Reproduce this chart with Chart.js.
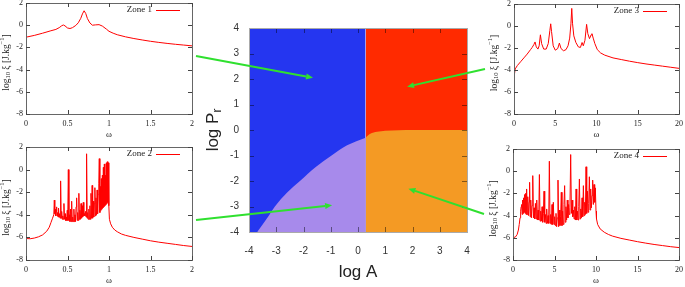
<!DOCTYPE html>
<html>
<head>
<meta charset="utf-8">
<script src="https://cdn.jsdelivr.net/npm/chart.js@4.4.1/dist/chart.umd.min.js"></script>
<style>
  body { margin: 0; background: #fff; }
  #wrap { position: relative; width: 685px; height: 287px; overflow: hidden; }
  #wrap canvas { position: absolute; }
</style>
</head>
<body>
<div id="wrap">
  <canvas id="zone1" width="200" height="142" style="left:0;top:0"></canvas>
  <canvas id="zone2" width="200" height="145" style="left:0;top:142px"></canvas>
  <canvas id="zone3" width="200" height="142" style="left:485px;top:0"></canvas>
  <canvas id="zone4" width="200" height="145" style="left:485px;top:142px"></canvas>
  <canvas id="phase" width="280" height="272" style="left:200px;top:15px"></canvas>
  <canvas id="arrows" width="685" height="287" style="left:0;top:0;pointer-events:none"></canvas>
</div>
<script>
// --- diagramme de phase (log A, log Pr) ---
const leftA = [-4, 0.28];
const leftTop = [4, 4];
const rightA = [0.28, 4];
const rightTop = [4, 4];
const purpleA = [-3.7, -3.3, -3.05, -2.6, -2.13, -1.55, -0.97, -0.4, 0.28];
const purpleTop = [-4, -3.4, -3, -2.45, -2, -1.45, -1, -0.6, -0.3];
const orangeA = [0.28, 0.45, 0.7, 1.0, 1.5, 2, 4];
const orangeTop = [-0.3, -0.15, -0.07, -0.03, -0.01, 0, 0];
const phaseTicks = [-4, -3, -2, -1, 0, 1, 2, 3, 4];

// flèches : point visé dans le diagramme
const arrowTipA = [-1.65, -0.95, 1.8, 1.85];
const arrowTipP = [2.05, -2.95, 1.7, -2.3];

// --- spectres ---
const z1Omega = [0, 0.1, 0.2, 0.3, 0.36, 0.4, 0.43, 0.45, 0.47, 0.5,
  0.53, 0.56, 0.6, 0.63, 0.66, 0.68, 0.7, 0.72, 0.74, 0.77,
  0.8, 0.84, 0.88, 0.92, 0.97, 1.0, 1.05, 1.1, 1.2, 1.3,
  1.4, 1.5, 1.6, 1.7, 1.8, 1.9, 2.0];
const z1Log = [-1.08, -0.92, -0.72, -0.5, -0.38, -0.22, -0.05, 0.02, -0.06, -0.25,
  -0.3, -0.22, -0.02, 0.22, 0.62, 1.02, 1.3, 1.05, 0.6, 0.2,
  0.0, 0.03, 0.05, -0.08, -0.36, -0.55, -0.72, -0.86, -1.05, -1.2,
  -1.33, -1.45, -1.55, -1.64, -1.72, -1.79, -1.86];

const z2Omega = [0, 0.05, 0.1, 0.15, 0.2, 0.25, 0.28, 0.3, 0.32, 0.335,
  0.341, 0.347, 0.352, 0.358, 0.363, 0.369, 0.374, 0.38, 0.386, 0.392,
  0.398, 0.404, 0.41, 0.417, 0.424, 0.43, 0.437, 0.443, 0.45, 0.457,
  0.464, 0.47, 0.477, 0.484, 0.49, 0.497, 0.503, 0.51, 0.517, 0.523,
  0.53, 0.537, 0.543, 0.55, 0.557, 0.563, 0.57, 0.577, 0.583, 0.59,
  0.597, 0.603, 0.61, 0.617, 0.623, 0.63, 0.637, 0.643, 0.65, 0.657,
  0.663, 0.67, 0.677, 0.683, 0.69, 0.697, 0.703, 0.71, 0.717, 0.723,
  0.73, 0.737, 0.743, 0.75, 0.757, 0.763, 0.77, 0.777, 0.783, 0.79,
  0.797, 0.803, 0.81, 0.817, 0.823, 0.83, 0.837, 0.843, 0.85, 0.857,
  0.863, 0.87, 0.877, 0.883, 0.89, 0.896, 0.902, 0.908, 0.914, 0.92,
  0.926, 0.932, 0.938, 0.944, 0.95, 0.956, 0.962, 0.968, 0.974, 0.98,
  0.986, 0.992, 0.998, 1.005, 1.02, 1.04, 1.07, 1.1, 1.15, 1.2,
  1.3, 1.4, 1.5, 1.6, 1.7, 1.8, 1.9, 2.0];
const z2Log = [-6.1, -6.12, -6.06, -5.95, -5.78, -5.45, -5.1, -4.7, -4.3, -4.0,
  -2.7, -3.9, -3.5, -4.1, -3.7, -3.3, -4.1, -3.8, -4.2, -3.4,
  -4.2, -3.9, -4.3, -1.0, -4.3, -3.7, -4.4, -4.1, -4.4, -3.0,
  -4.4, -3.9, -4.5, -4.2, -4.5, -3.6, -4.5, 0.0, -4.5, -4.0,
  -4.6, -3.5, -4.6, -2.8, -4.6, -4.2, -4.6, -3.5, -4.6, -4.0,
  -4.6, -3.3, -2.5, -4.5, -3.8, -4.5, -2.1, -4.4, -3.6, -4.4,
  -3.0, -4.3, -3.2, -4.2, -2.9, -4.1, -3.9, -4.1, -3.7, -4.2,
  1.4, -4.3, -3.8, -4.4, -3.5, -4.4, -3.2, -4.4, -2.1, -4.3,
  -1.4, -4.3, -2.8, -4.2, -3.0, -1.6, -4.1, -2.5, -4.0, -1.8,
  -3.9, -2.2, -1.2, 0.97, -3.8, -1.5, -3.6, -0.8, -3.5, -0.5,
  -3.4, 0.2, -3.3, 0.5, -3.2, -0.5, -3.1, 0.6, -3.0, 0.7,
  -2.9, 0.6, -3.2, -4.4, -4.8, -5.1, -5.35, -5.5, -5.7, -5.82,
  -6.0, -6.15, -6.3, -6.42, -6.52, -6.62, -6.72, -6.8];

const z3Omega = [0, 0.05, 0.15, 0.4, 0.8, 1.2, 1.6, 2.0, 2.2, 2.4,
  2.55, 2.7, 2.9, 3.05, 3.2, 3.35, 3.6, 3.9, 4.15, 4.35,
  4.45, 4.55, 4.75, 5.0, 5.3, 5.5, 5.7, 6.0, 6.3, 6.55,
  6.75, 6.9, 7.0, 7.1, 7.25, 7.5, 7.8, 8.05, 8.25, 8.4,
  8.6, 8.8, 8.95, 9.15, 9.35, 9.45, 9.6, 9.8, 10.1, 10.5,
  11, 12, 13, 14, 15, 16, 17, 18, 19, 20];
const z3Log = [-5.1, -4.4, -3.9, -3.6, -3.25, -2.9, -2.55, -2.15, -1.95, -1.7,
  -1.45, -1.9, -2.1, -1.8, -0.8, -1.6, -2.1, -2.1, -1.6, -0.4,
  0.2, -0.5, -1.8, -2.2, -2.05, -1.55, -2.05, -2.25, -2.15, -1.8,
  -1.1, 0.2, 1.6, 0.2, -0.9, -1.5, -1.9, -1.95, -1.5, -1.8,
  -1.3, 0.15, -0.7, -1.15, -0.8, -0.7, -1.1, -1.6, -2.15, -2.45,
  -2.65, -2.9, -3.05, -3.2, -3.33, -3.45, -3.55, -3.65, -3.75, -3.85];

const z4Omega = [0, 0.3, 0.5, 0.65, 0.75, 0.85, 0.92, 0.98, 1.04, 1.1,
  1.16, 1.22, 1.28, 1.34, 1.4, 1.46, 1.52, 1.58, 1.64, 1.7,
  1.78, 1.86, 1.94, 2.0, 2.06, 2.14, 2.22, 2.3, 2.38, 2.46,
  2.54, 2.62, 2.7, 2.78, 2.86, 2.94, 3.02, 3.1, 3.18, 3.26,
  3.34, 3.42, 3.5, 3.58, 3.66, 3.74, 3.82, 3.9, 3.98, 4.06,
  4.14, 4.22, 4.3, 4.38, 4.46, 4.54, 4.62, 4.7, 4.78, 4.86,
  4.94, 5.02, 5.1, 5.18, 5.26, 5.34, 5.42, 5.5, 5.58, 5.66,
  5.74, 5.82, 5.9, 5.98, 6.06, 6.14, 6.22, 6.3, 6.38, 6.46,
  6.54, 6.62, 6.7, 6.78, 6.86, 6.95, 7.04, 7.12, 7.2, 7.28,
  7.36, 7.44, 7.52, 7.6, 7.68, 7.76, 7.84, 7.92, 8.0, 8.08,
  8.16, 8.24, 8.32, 8.4, 8.48, 8.56, 8.64, 8.72, 8.8, 8.88,
  8.96, 9.04, 9.12, 9.2, 9.28, 9.36, 9.44, 9.52, 9.6, 9.68,
  9.76, 9.84, 9.92, 10.0, 10.06, 10.2, 10.5, 11, 11.5, 12,
  13, 14, 15, 16, 17, 18, 19, 20];
const z4Log = [-6.0, -5.92, -5.7, -5.3, -4.8, -4.2, -3.6, -3.2, -3.0, -3.9,
  -2.6, -3.8, -2.4, -3.7, -2.1, -3.8, -2.0, -3.9, -1.6, -3.9,
  -2.3, -4.0, -2.8, -1.0, -4.1, -2.6, -4.2, -3.1, -0.4, -4.2,
  -3.3, -4.3, -2.9, -4.3, -2.6, -4.4, -3.5, -4.4, -0.3, -4.5,
  -3.6, -4.5, -3.2, -4.6, -3.8, -1.8, -4.6, -3.9, -4.7, -3.4,
  -4.7, -4.0, -4.7, 0.9, -4.7, -3.9, -4.8, -3.0, -4.8, -2.8,
  -4.8, -4.1, -4.9, -3.8, -5.0, -4.2, -0.8, -5.0, -3.5, -4.9,
  -4.1, -1.9, -4.9, -3.6, -4.8, -3.0, -1.3, -4.6, -3.2, -4.4,
  -2.6, -4.2, -3.0, -3.9, -3.3, 1.5, -3.8, -2.6, -4.1, -3.5,
  -4.3, -3.2, -4.4, -1.6, -4.4, -3.6, -4.4, -3.2, -0.7, -4.3,
  -3.4, -4.2, -2.4, -4.1, -1.3, -4.0, -2.8, -3.9, 0.4, -3.8,
  -1.8, -3.7, -2.9, -0.5, -3.5, -1.6, -3.3, -2.2, -0.8, -3.0,
  -1.2, -2.8, -1.5, -3.6, -4.3, -4.8, -5.2, -5.5, -5.7, -5.85,
  -6.05, -6.2, -6.35, -6.48, -6.6, -6.7, -6.8, -6.88];

const zip = (xs, ys) => xs.map((x, i) => ({ x: x, y: ys[i] }));
const serif = '"Liberation Serif", "DejaVu Serif", serif';
const sans = '"Liberation Sans", Arial, sans-serif';

// cadre façon gnuplot : boîte, graduations vers l'intérieur, légende, titres
const gnuFrame = {
  id: 'gnuFrame',
  afterDraw(chart) {
    const ctx = chart.ctx;
    const a = chart.chartArea;
    const xs = chart.scales.x, ys = chart.scales.y;
    ctx.save();
    ctx.strokeStyle = '#666';
    ctx.lineWidth = 1;
    ctx.strokeRect(Math.round(a.left) + 0.5, Math.round(a.top) + 0.5,
      Math.round(a.right - a.left), Math.round(a.bottom - a.top));
    ctx.strokeStyle = '#444';
    ctx.beginPath();
    xs.ticks.forEach(t => {
      const p = Math.round(xs.getPixelForValue(t.value)) + 0.5;
      ctx.moveTo(p, a.bottom); ctx.lineTo(p, a.bottom - 4);
      ctx.moveTo(p, a.top); ctx.lineTo(p, a.top + 4);
    });
    ys.ticks.forEach(t => {
      const p = Math.round(ys.getPixelForValue(t.value)) + 0.5;
      ctx.moveTo(a.left, p); ctx.lineTo(a.left + 4, p);
      ctx.moveTo(a.right, p); ctx.lineTo(a.right - 4, p);
    });
    ctx.stroke();

    // légende
    const ly = Math.round(a.top + 7);
    ctx.fillStyle = '#222';
    ctx.font = '9px ' + serif;
    ctx.textAlign = 'right';
    ctx.textBaseline = 'middle';
    ctx.fillText(chart.data.datasets[0].label, a.right - 40, ly);
    ctx.strokeStyle = '#ff0000';
    ctx.beginPath();
    ctx.moveTo(a.right - 36, ly + 0.5);
    ctx.lineTo(a.right - 12, ly + 0.5);
    ctx.stroke();

    // titre axe x
    ctx.textAlign = 'center';
    ctx.font = '9px ' + serif;
    ctx.fillText('ω', (a.left + a.right) / 2, a.bottom + 21);

    // titre axe y : log10 ξ [J.kg-1]
    ctx.translate(a.left - 20, (a.top + a.bottom) / 2 + 4);
    ctx.rotate(-Math.PI / 2);
    const parts = [['log', 9.5, 0], ['10', 6.5, 2.5], [' ξ [J.kg', 9.5, 0], ['−1', 6.5, -3.5], [']', 9.5, 0]];
    let total = 0;
    parts.forEach(p => { ctx.font = p[1] + 'px ' + serif; total += ctx.measureText(p[0]).width; });
    let cx = -total / 2;
    ctx.textAlign = 'left';
    parts.forEach(p => {
      ctx.font = p[1] + 'px ' + serif;
      ctx.fillText(p[0], cx, p[2]);
      cx += ctx.measureText(p[0]).width;
    });
    ctx.restore();
  }
};

function zoneChart(id, name, omega, values, xMax, xStep, box) {
  return new Chart(document.getElementById(id), {
    type: 'line',
    data: {
      datasets: [{
        label: name,
        data: zip(omega, values),
        borderColor: '#ff0000',
        borderWidth: 1,
        pointRadius: 0,
        tension: 0,
        fill: false
      }]
    },
    options: {
      responsive: false,
      animation: false,
      events: [],
      layout: { padding: { left: 0, right: box.right, top: box.top, bottom: 0 } },
      plugins: { legend: { display: false }, tooltip: { enabled: false } },
      scales: {
        x: {
          type: 'linear', min: 0, max: xMax,
          ticks: { stepSize: xStep, padding: 5, color: '#222', maxRotation: 0, autoSkip: false,
                   font: { family: serif, size: 8 },
                   callback: v => String(Math.round(v * 100) / 100) },
          grid: { display: false, drawTicks: false },
          border: { display: false },
          afterFit: s => { s.height = box.bottom; s.paddingLeft = 0; s.paddingRight = 0; }
        },
        y: {
          min: -8, max: 2,
          ticks: { stepSize: 2, padding: 3, color: '#222', font: { family: serif, size: 8 } },
          grid: { display: false, drawTicks: false },
          border: { display: false },
          afterFit: s => { s.width = box.left; s.paddingTop = 0; s.paddingBottom = 0; }
        }
      }
    },
    plugins: [gnuFrame]
  });
}

zoneChart('zone1', 'Zone 1', z1Omega, z1Log, 2, 0.5, { left: 26, right: 8, top: 3, bottom: 28 });
zoneChart('zone2', 'Zone 2', z2Omega, z2Log, 2, 0.5, { left: 26, right: 8, top: 5, bottom: 27 });
zoneChart('zone3', 'Zone 3', z3Omega, z3Log, 20, 5, { left: 29, right: 6, top: 4, bottom: 28 });
zoneChart('zone4', 'Zone 4', z4Omega, z4Log, 20, 5, { left: 28, right: 6, top: 7, bottom: 27 });

// cadre + graduations + titres du diagramme central
const phaseFrame = {
  id: 'phaseFrame',
  afterDraw(chart) {
    const ctx = chart.ctx;
    const a = chart.chartArea;
    const xs = chart.scales.x, ys = chart.scales.y;
    ctx.save();
    ctx.strokeStyle = 'rgba(0,0,0,0.45)';
    ctx.lineWidth = 1;
    ctx.beginPath();
    phaseTicks.forEach(v => {
      const px = Math.round(xs.getPixelForValue(v)) + 0.5;
      ctx.moveTo(px, a.bottom); ctx.lineTo(px, a.bottom - 5);
      ctx.moveTo(px, a.top); ctx.lineTo(px, a.top + 5);
      const py = Math.round(ys.getPixelForValue(v)) + 0.5;
      ctx.moveTo(a.left, py); ctx.lineTo(a.left + 5, py);
      ctx.moveTo(a.right, py); ctx.lineTo(a.right - 5, py);
    });
    ctx.stroke();
    ctx.strokeStyle = '#aaa';
    ctx.strokeRect(Math.round(a.left) + 0.5, Math.round(a.top) + 0.5,
      Math.round(a.right - a.left), Math.round(a.bottom - a.top));

    ctx.fillStyle = '#222';
    ctx.textBaseline = 'middle';
    ctx.textAlign = 'center';
    ctx.font = '17px ' + sans;
    ctx.fillText('log A', (a.left + a.right) / 2, a.bottom + 40);

    ctx.translate(a.left - 36, (a.top + a.bottom) / 2);
    ctx.rotate(-Math.PI / 2);
    ctx.font = '17px ' + sans;
    const w1 = ctx.measureText('log P').width;
    ctx.font = '12px ' + sans;
    const w2 = ctx.measureText('r').width;
    ctx.textAlign = 'left';
    ctx.font = '17px ' + sans;
    ctx.fillText('log P', -(w1 + w2) / 2, 0);
    ctx.font = '12px ' + sans;
    ctx.fillText('r', -(w1 + w2) / 2 + w1, 5);
    ctx.restore();
  }
};

const area = { type: 'line', borderWidth: 0, pointRadius: 0, fill: 'start' };
const phase = new Chart(document.getElementById('phase'), {
  type: 'line',
  data: {
    datasets: [
      Object.assign({}, area, { data: zip(leftA, leftTop), backgroundColor: '#2536f0', order: 2 }),
      Object.assign({}, area, { data: zip(rightA, rightTop), backgroundColor: '#ff2a00', order: 2 }),
      Object.assign({}, area, { data: zip(purpleA, purpleTop), backgroundColor: '#a78aeb', order: 1, cubicInterpolationMode: 'monotone' }),
      Object.assign({}, area, { data: zip(orangeA, orangeTop), backgroundColor: '#f49a24', order: 1, cubicInterpolationMode: 'monotone' })
    ]
  },
  options: {
    responsive: false,
    animation: false,
    events: [],
    layout: { padding: { left: 0, right: 13, top: 13, bottom: 0 } },
    plugins: { legend: { display: false }, tooltip: { enabled: false } },
    scales: {
      x: {
        type: 'linear', min: -4, max: 4,
        ticks: { stepSize: 1, padding: 13, color: '#333', font: { family: sans, size: 10 }, maxRotation: 0 },
        grid: { display: false, drawTicks: false },
        border: { display: false },
        afterFit: s => { s.height = 55; s.paddingLeft = 0; s.paddingRight = 0; }
      },
      y: {
        min: -4, max: 4,
        ticks: { stepSize: 1, padding: 10, color: '#333', font: { family: sans, size: 10 } },
        grid: { display: false, drawTicks: false },
        border: { display: false },
        afterFit: s => { s.width = 49; s.paddingTop = 0; s.paddingBottom = 0; }
      }
    }
  },
  plugins: [phaseFrame]
});

// flèches vertes des spectres vers les zones
function drawArrows() {
  const canvas = document.getElementById('arrows');
  const ctx = canvas.getContext('2d');
  const off = { x: 200, y: 15 };
  const starts = [[196, 56], [196, 220], [485, 69], [484, 214]];
  ctx.strokeStyle = '#2fe02f';
  ctx.fillStyle = '#2fe02f';
  ctx.lineWidth = 2;
  arrowTipA.forEach((v, i) => {
    const tx = off.x + phase.scales.x.getPixelForValue(v);
    const ty = off.y + phase.scales.y.getPixelForValue(arrowTipP[i]);
    const sx = starts[i][0], sy = starts[i][1];
    const ang = Math.atan2(ty - sy, tx - sx);
    const hl = 7, hw = 3;
    const bx = tx - hl * Math.cos(ang), by = ty - hl * Math.sin(ang);
    ctx.beginPath();
    ctx.moveTo(sx, sy);
    ctx.lineTo(bx, by);
    ctx.stroke();
    ctx.beginPath();
    ctx.moveTo(tx, ty);
    ctx.lineTo(bx + hw * Math.sin(ang), by - hw * Math.cos(ang));
    ctx.lineTo(bx - hw * Math.sin(ang), by + hw * Math.cos(ang));
    ctx.closePath();
    ctx.fill();
  });
}
drawArrows();
</script>
</body>
</html>
